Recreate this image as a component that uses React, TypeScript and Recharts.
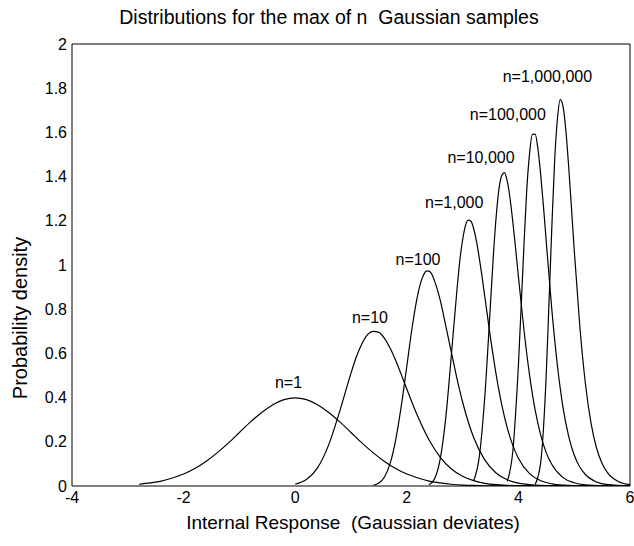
import { LineChart, Line, XAxis, YAxis, ReferenceDot } from 'recharts';

const FONT = '"Liberation Sans", Arial, Helvetica, sans-serif';

const xTicks = [-4, -2, 0, 2, 4, 6];
const yTicks = [0, 0.2, 0.4, 0.6, 0.8, 1, 1.2, 1.4, 1.6, 1.8, 2];

// density curves, [x, density]
const n1: [number, number][] = [
  [-2.8, 0.008], [-2.6, 0.014], [-2.4, 0.022], [-2.2, 0.036], [-2.0, 0.054], [-1.8, 0.079],
  [-1.6, 0.111], [-1.4, 0.150], [-1.2, 0.194], [-1.0, 0.242], [-0.8, 0.290], [-0.6, 0.333],
  [-0.4, 0.368], [-0.2, 0.391], [0, 0.399], [0.2, 0.391], [0.4, 0.368], [0.6, 0.333],
  [0.8, 0.290], [1.0, 0.242], [1.2, 0.194], [1.4, 0.150], [1.6, 0.111], [1.8, 0.079],
  [2.0, 0.054], [2.2, 0.036], [2.4, 0.022], [2.6, 0.014], [2.8, 0.008], [3.0, 0.0044],
  [3.2, 0.0024], [3.4, 0.0012], [3.6, 0.0006], [3.8, 0.0003], [4.0, 0.0001], [5.0, 0], [6.0, 0],
];
const n10: [number, number][] = [
  [0, 0.008], [0.2, 0.029], [0.4, 0.082], [0.6, 0.186], [0.8, 0.340], [1.0, 0.511],
  [1.1, 0.587], [1.2, 0.646], [1.3, 0.686], [1.4, 0.700], [1.5, 0.695], [1.6, 0.668],
  [1.7, 0.624], [1.8, 0.569], [1.9, 0.505], [2.0, 0.439], [2.2, 0.313], [2.4, 0.208],
  [2.6, 0.130], [2.8, 0.077], [3.0, 0.044], [3.2, 0.024], [3.4, 0.012], [3.6, 0.006],
  [3.8, 0.003], [4.0, 0.0013], [4.5, 0.0002], [5.0, 0], [6.0, 0],
];
const n100: [number, number][] = [
  [1.4, 0.0035], [1.5, 0.0135], [1.6, 0.041], [1.7, 0.101], [1.8, 0.208], [1.9, 0.360],
  [2.0, 0.542], [2.1, 0.725], [2.2, 0.871], [2.3, 0.955], [2.35, 0.972], [2.4, 0.972],
  [2.45, 0.957], [2.5, 0.926], [2.6, 0.840], [2.7, 0.723], [2.8, 0.603], [2.9, 0.485],
  [3.0, 0.380], [3.2, 0.218], [3.4, 0.117], [3.6, 0.059], [3.8, 0.028], [4.0, 0.013],
  [4.2, 0.0058], [4.4, 0.0024], [4.6, 0.001], [5.0, 0.0002], [6.0, 0],
];
const n1k: [number, number][] = [
  [2.4, 0.006], [2.5, 0.034], [2.6, 0.124], [2.7, 0.313], [2.8, 0.596], [2.9, 0.891],
  [2.95, 1.020], [3.0, 1.113], [3.05, 1.177], [3.1, 1.203], [3.15, 1.198], [3.2, 1.163],
  [3.25, 1.106], [3.3, 1.030], [3.35, 0.945], [3.4, 0.853], [3.5, 0.670], [3.6, 0.506],
  [3.7, 0.369], [3.8, 0.263], [3.9, 0.184], [4.0, 0.126], [4.2, 0.056], [4.4, 0.024],
  [4.6, 0.0098], [4.8, 0.0038], [5.0, 0.0014], [5.5, 0.0001], [6.0, 0],
];
const n10k: [number, number][] = [
  [3.2, 0.024], [3.3, 0.134], [3.4, 0.412], [3.5, 0.826], [3.55, 1.038], [3.6, 1.214],
  [3.65, 1.341], [3.7, 1.404], [3.75, 1.418], [3.8, 1.379], [3.85, 1.302], [3.9, 1.195],
  [3.95, 1.075], [4.0, 0.948], [4.1, 0.706], [4.2, 0.502], [4.3, 0.344], [4.4, 0.230],
  [4.5, 0.150], [4.6, 0.097], [4.8, 0.038], [5.0, 0.0145], [5.2, 0.005], [5.5, 0.001], [6.0, 0],
];
const n100k: [number, number][] = [
  [3.8, 0.021], [3.9, 0.157], [4.0, 0.545], [4.1, 1.092], [4.15, 1.341], [4.2, 1.504],
  [4.25, 1.591], [4.3, 1.592], [4.35, 1.525], [4.4, 1.408], [4.45, 1.263], [4.5, 1.103],
  [4.6, 0.796], [4.7, 0.543], [4.8, 0.355], [4.9, 0.226], [5.0, 0.140], [5.1, 0.086],
  [5.2, 0.052], [5.4, 0.018], [5.6, 0.006], [6.0, 0.001],
];
const n1m: [number, number][] = [
  [4.3, 0.007], [4.4, 0.107], [4.5, 0.511], [4.55, 0.840], [4.6, 1.177], [4.65, 1.474],
  [4.7, 1.663], [4.75, 1.748], [4.8, 1.717], [4.85, 1.611], [4.9, 1.448], [4.95, 1.262],
  [5.0, 1.069], [5.1, 0.725], [5.2, 0.465], [5.3, 0.287], [5.4, 0.172], [5.5, 0.102],
  [5.6, 0.059], [5.8, 0.019], [6.0, 0.006],
];

const curves = [n1, n10, n100, n1k, n10k, n100k, n1m];

const curveLabels = ['n=1', 'n=10', 'n=100', 'n=1,000', 'n=10,000', 'n=100,000', 'n=1,000,000'];
const labelX = [-0.12, 1.34, 2.2, 2.85, 3.33, 3.81, 4.52];
const labelY = [0.468, 0.764, 1.027, 1.283, 1.488, 1.682, 1.855];

export default function App() {
  const series = curves.map((c) => c.map(([x, y]) => ({ x, y })));
  const tickStyle = { fontSize: 16, fill: '#000', fontFamily: FONT };
  const black = { stroke: '#000' };

  return (
    <div style={{ position: 'absolute', left: 0, top: 0, width: 634, height: 546, background: '#fff', fontFamily: FONT }}>
      <div style={{ position: 'absolute', left: 329, top: 17, transform: 'translate(-50%, -50%)', whiteSpace: 'nowrap', fontSize: 19.5, color: '#000' }}>
        Distributions for the max of n&nbsp; Gaussian samples
      </div>
      <div style={{ position: 'absolute', left: 353, top: 523, transform: 'translate(-50%, -50%)', whiteSpace: 'nowrap', fontSize: 19, color: '#000' }}>
        Internal Response&nbsp; (Gaussian deviates)
      </div>
      <div style={{ position: 'absolute', left: 20, top: 318, transform: 'translate(-50%, -50%) rotate(-90deg)', whiteSpace: 'nowrap', fontSize: 20, color: '#000' }}>
        Probability density
      </div>
      <LineChart width={634} height={546} margin={{ top: 44, right: 4, bottom: 59, left: 71 }} style={{ position: 'absolute', left: 0, top: 0 }}>
        <XAxis xAxisId="b" dataKey="x" type="number" domain={[-4, 6]} ticks={xTicks} orientation="bottom" height={1}
          tickLine={false} tickSize={0} tickMargin={6} tick={tickStyle} axisLine={black} allowDataOverflow />
        <XAxis xAxisId="bt" dataKey="x" type="number" domain={[-4, 6]} ticks={xTicks} orientation="bottom" height={1}
          mirror tick={false} tickSize={6} tickLine={black} axisLine={false} />
        <XAxis xAxisId="t" dataKey="x" type="number" domain={[-4, 6]} ticks={xTicks} orientation="top" height={1}
          mirror tick={false} tickSize={6} tickLine={black} axisLine={black} />
        <YAxis yAxisId="l" type="number" domain={[0, 2]} ticks={yTicks} orientation="left" width={1}
          tickLine={false} tickSize={0} tickMargin={5} tick={tickStyle} axisLine={black} allowDataOverflow />
        <YAxis yAxisId="lt" type="number" domain={[0, 2]} ticks={yTicks} orientation="left" width={1}
          mirror tick={false} tickSize={6} tickLine={black} axisLine={false} />
        <YAxis yAxisId="r" type="number" domain={[0, 2]} ticks={yTicks} orientation="right" width={1}
          mirror tick={false} tickSize={6} tickLine={black} axisLine={black} />
        {series.map((d, i) => (
          <Line key={i} xAxisId="b" yAxisId="l" data={d} dataKey="y" type="monotoneX" stroke="#000"
            strokeWidth={1.2} dot={false} activeDot={false} isAnimationActive={false} />
        ))}
        {curveLabels.map((t, i) => (
          <ReferenceDot key={t} xAxisId="b" yAxisId="l" x={labelX[i]} y={labelY[i]} r={0} fill="none" stroke="none"
            ifOverflow="visible" label={{ value: t, position: 'center', fill: '#000', fontSize: 16, fontFamily: FONT }} />
        ))}
      </LineChart>
    </div>
  );
}
